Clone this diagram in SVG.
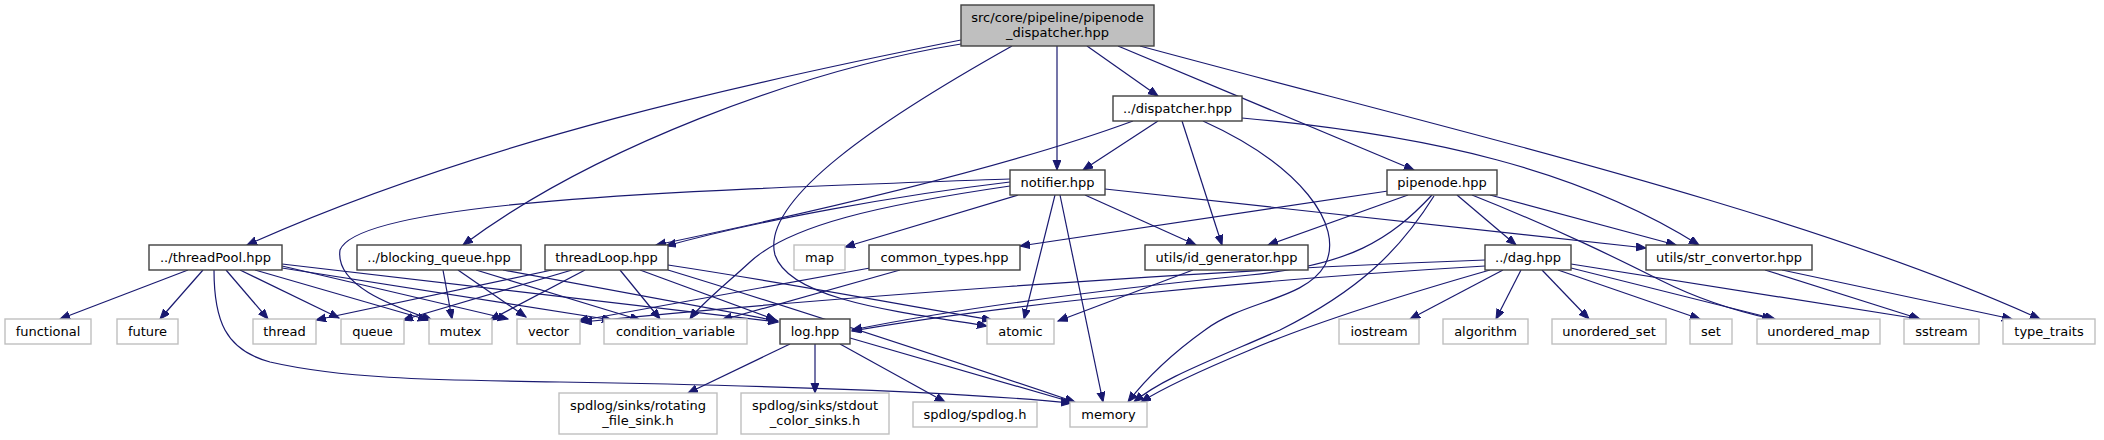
<svg xmlns="http://www.w3.org/2000/svg" width="2104" height="440" viewBox="0 0 2104 440">
<style>
.nd rect{fill:#ffffff;stroke:#404040;stroke-width:1.4}
.sys rect{fill:#ffffff;stroke:#bfbfbf;stroke-width:1.4}
.root rect{fill:#bfbfbf;stroke:#404040;stroke-width:1.4}
text{font-family:"DejaVu Sans","Liberation Sans",sans-serif;font-size:13px;fill:#000000;text-anchor:middle}
#edges path{fill:none;stroke:#191970;stroke-width:1.2;marker-end:url(#ah)}
</style>
<defs>
<marker id="ah" markerWidth="12" markerHeight="10" refX="10" refY="4" orient="auto" markerUnits="userSpaceOnUse">
<path d="M0,0 L10,4 L0,8 z" fill="#191970" stroke="#191970" stroke-width="1"/>
</marker>
</defs>
<rect width="2104" height="440" fill="#ffffff"/>
<g id="edges">
<path d="M961,40 C760,80 480,140 247,245"/>
<path d="M961,44 C800,70 590,150 463,245"/>
<path d="M1057,46 L1057,170"/>
<path d="M1087,46 L1158,96"/>
<path d="M1118,46 L1414,170"/>
<path d="M1140,46 C1450,130 1800,210 2040,319"/>
<path d="M1012,46 C880,120 760,200 775,255 C790,300 900,312 987,326"/>
<path d="M1158,121 L1083,170"/>
<path d="M1133,121 C1000,170 800,215 656,245"/>
<path d="M1182,121 L1222,245"/>
<path d="M1242,118 C1430,135 1580,170 1699,245"/>
<path d="M1203,121 C1300,165 1345,225 1325,265 C1305,300 1245,300 1205,330 C1170,355 1145,380 1128,402"/>
<path d="M1010,182 C900,195 760,220 666,246"/>
<path d="M1010,179 C700,190 360,200 340,250 C335,285 390,305 432,320"/>
<path d="M1010,186 C880,205 790,225 750,262 C725,285 700,305 690,319"/>
<path d="M1018,195 L845,247"/>
<path d="M1055,195 L1024,319"/>
<path d="M1060,195 L1103,402"/>
<path d="M1085,195 L1196,245"/>
<path d="M1105,189 L1646,248"/>
<path d="M1388,191 L1020,246"/>
<path d="M1408,195 L1268,245"/>
<path d="M1432,195 C1390,240 1350,265 1250,275 C1100,290 950,310 852,330"/>
<path d="M1434,196 C1400,250 1360,290 1280,330 C1200,365 1160,380 1134,402"/>
<path d="M1457,195 L1516,245"/>
<path d="M1472,195 C1560,230 1620,260 1660,280 C1700,300 1740,312 1772,319"/>
<path d="M1490,195 L1676,245"/>
<path d="M552,270 L316,320"/>
<path d="M572,270 L403,320"/>
<path d="M585,270 L490,320"/>
<path d="M620,270 L660,319"/>
<path d="M640,270 L776,320"/>
<path d="M668,265 C800,285 900,305 992,320"/>
<path d="M668,270 C800,310 950,360 1075,402"/>
<path d="M188,270 L60,319"/>
<path d="M203,270 L160,319"/>
<path d="M226,270 L268,319"/>
<path d="M240,270 L339,318"/>
<path d="M255,270 L428,320"/>
<path d="M282,266 L508,319"/>
<path d="M282,268 L612,320"/>
<path d="M282,264 L778,322"/>
<path d="M214,270 C214,320 225,350 270,362 C340,378 420,380 560,382 C800,386 980,394 1071,403"/>
<path d="M443,270 L452,319"/>
<path d="M458,270 L526,317"/>
<path d="M476,270 L640,320"/>
<path d="M503,270 L778,321"/>
<path d="M870,268 L578,321"/>
<path d="M900,270 L722,320"/>
<path d="M1193,270 L1058,321"/>
<path d="M1485,260 C1200,270 800,300 582,322"/>
<path d="M1485,266 C1250,280 1000,305 852,331"/>
<path d="M1490,270 C1420,290 1320,320 1250,350 C1190,375 1160,390 1141,402"/>
<path d="M1503,270 L1410,319"/>
<path d="M1521,270 L1496,319"/>
<path d="M1542,270 L1589,319"/>
<path d="M1558,270 L1700,319"/>
<path d="M1571,268 L1775,319"/>
<path d="M1571,264 L1919,319"/>
<path d="M1765,270 L1920,319"/>
<path d="M1782,270 L2012,319"/>
<path d="M790,344 L688,393"/>
<path d="M815,344 L815,393"/>
<path d="M840,344 L945,402"/>
<path d="M850,338 L1075,403"/>
</g>
<g id="n_root" class="root"><rect x="961" y="5" width="193" height="41"/><text x="1057.5" y="22">src/core/pipeline/pipenode</text><text x="1057.5" y="37">_dispatcher.hpp</text></g>
<g id="n_dispatcher" class="nd"><rect x="1113" y="96" width="129" height="25"/><text x="1177.5" y="113">../dispatcher.hpp</text></g>
<g id="n_notifier" class="nd"><rect x="1010" y="170" width="95" height="25"/><text x="1057.5" y="187">notifier.hpp</text></g>
<g id="n_pipenode" class="nd"><rect x="1387" y="170" width="110" height="25"/><text x="1442" y="187">pipenode.hpp</text></g>
<g id="n_threadPool" class="nd"><rect x="149" y="245" width="133" height="25"/><text x="215.5" y="262">../threadPool.hpp</text></g>
<g id="n_blocking_queue" class="nd"><rect x="357" y="245" width="164" height="25"/><text x="439" y="262">../blocking_queue.hpp</text></g>
<g id="n_threadLoop" class="nd"><rect x="545" y="245" width="123" height="25"/><text x="606.5" y="262">threadLoop.hpp</text></g>
<g id="n_map" class="sys"><rect x="794" y="245" width="51" height="25"/><text x="819.5" y="262">map</text></g>
<g id="n_common_types" class="nd"><rect x="869" y="245" width="151" height="25"/><text x="944.5" y="262">common_types.hpp</text></g>
<g id="n_id_generator" class="nd"><rect x="1145" y="245" width="163" height="25"/><text x="1226.5" y="262">utils/id_generator.hpp</text></g>
<g id="n_dag" class="nd"><rect x="1485" y="245" width="86" height="25"/><text x="1528" y="262">../dag.hpp</text></g>
<g id="n_str_convertor" class="nd"><rect x="1646" y="245" width="166" height="25"/><text x="1729" y="262">utils/str_convertor.hpp</text></g>
<g id="n_functional" class="sys"><rect x="5" y="319" width="86" height="25"/><text x="48" y="336">functional</text></g>
<g id="n_future" class="sys"><rect x="117" y="319" width="61" height="25"/><text x="147.5" y="336">future</text></g>
<g id="n_thread" class="sys"><rect x="253" y="319" width="63" height="25"/><text x="284.5" y="336">thread</text></g>
<g id="n_queue" class="sys"><rect x="341" y="319" width="63" height="25"/><text x="372.5" y="336">queue</text></g>
<g id="n_mutex" class="sys"><rect x="429" y="319" width="63" height="25"/><text x="460.5" y="336">mutex</text></g>
<g id="n_vector" class="sys"><rect x="517" y="319" width="63" height="25"/><text x="548.5" y="336">vector</text></g>
<g id="n_condition_variable" class="sys"><rect x="604" y="319" width="143" height="25"/><text x="675.5" y="336">condition_variable</text></g>
<g id="n_log" class="nd"><rect x="780" y="319" width="70" height="25"/><text x="815" y="336">log.hpp</text></g>
<g id="n_atomic" class="sys"><rect x="987" y="319" width="67" height="25"/><text x="1020.5" y="336">atomic</text></g>
<g id="n_iostream" class="sys"><rect x="1339" y="319" width="80" height="25"/><text x="1379" y="336">iostream</text></g>
<g id="n_algorithm" class="sys"><rect x="1443" y="319" width="85" height="25"/><text x="1485.5" y="336">algorithm</text></g>
<g id="n_unordered_set" class="sys"><rect x="1552" y="319" width="114" height="25"/><text x="1609" y="336">unordered_set</text></g>
<g id="n_set" class="sys"><rect x="1690" y="319" width="42" height="25"/><text x="1711" y="336">set</text></g>
<g id="n_unordered_map" class="sys"><rect x="1757" y="319" width="123" height="25"/><text x="1818.5" y="336">unordered_map</text></g>
<g id="n_sstream" class="sys"><rect x="1904" y="319" width="75" height="25"/><text x="1941.5" y="336">sstream</text></g>
<g id="n_type_traits" class="sys"><rect x="2003" y="319" width="92" height="25"/><text x="2049" y="336">type_traits</text></g>
<g id="n_rotating" class="sys"><rect x="559" y="393" width="158" height="41"/><text x="638" y="410">spdlog/sinks/rotating</text><text x="638" y="425">_file_sink.h</text></g>
<g id="n_stdout" class="sys"><rect x="741" y="393" width="148" height="41"/><text x="815" y="410">spdlog/sinks/stdout</text><text x="815" y="425">_color_sinks.h</text></g>
<g id="n_spdlog" class="sys"><rect x="913" y="402" width="124" height="25"/><text x="975" y="419">spdlog/spdlog.h</text></g>
<g id="n_memory" class="sys"><rect x="1070" y="402" width="77" height="25"/><text x="1108.5" y="419">memory</text></g>
</svg>
